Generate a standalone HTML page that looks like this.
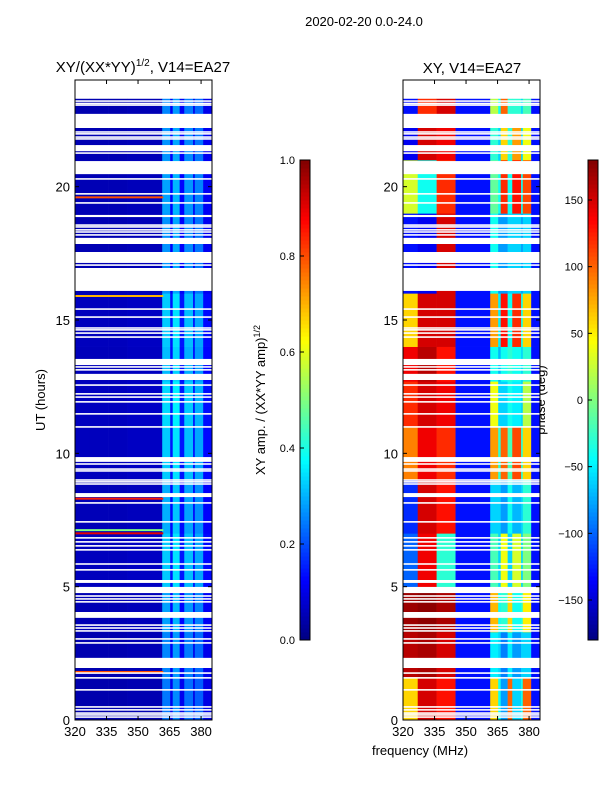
<!DOCTYPE html>
<html><head><meta charset="utf-8">
<style>
body{margin:0;background:#fff;width:600px;height:800px;overflow:hidden;font-family:"Liberation Sans","DejaVu Sans",sans-serif;}
svg text{font-family:"Liberation Sans","DejaVu Sans",sans-serif;}
</style></head>
<body>
<svg id="fig" width="600" height="800" viewBox="0 0 600 800">
<rect width="600" height="800" fill="#fff"/>
<text x="364" y="26" font-size="13" text-anchor="middle">2020-02-20 0.0-24.0</text>
<text x="143" y="72" font-size="15" text-anchor="middle">XY/(XX*YY)<tspan font-size="10" dy="-6">1/2</tspan><tspan dy="6">, V14=EA27</tspan></text>
<text x="472" y="73" font-size="15" text-anchor="middle">XY, V14=EA27</text>
<text x="420" y="755" font-size="13" text-anchor="middle">frequency (MHz)</text>
<text transform="translate(45,400) rotate(-90)" font-size="13" text-anchor="middle">UT (hours)</text>
<text transform="translate(265,400) rotate(-90)" font-size="13" text-anchor="middle">XY amp. / (XX*YY amp)<tspan font-size="9" dy="-5">1/2</tspan></text>
<text transform="translate(545,400) rotate(-90)" font-size="13" text-anchor="middle">phase (deg)</text>
<g id="left"></g><g id="right"></g><g id="cb"></g>
</svg>
<script>
// ---- data ----
const hourTicks=[0,5,10,15,20];
const freqTicks=[320,335,350,365,380];
const ampTicks=[0.0,0.2,0.4,0.6,0.8,1.0];
const phaseTicks=[-150,-100,-50,0,50,100,150];
const wideGaps=[[23.3,24],[22.2,22.73],[21.33,21.56],[20.47,20.96],[18.86,18.94],[17.85,18.08],[17.14,17.55],[16.09,16.95],[13.31,13.54],[12.75,12.98],[9.68,9.86],[8.36,8.51],[5.14,5.25],[4.76,4.99],[3.83,4.05],[1.95,2.33]];
const thinGaps=[23.21,23.12,23.06,22.05,21.98,21.86,21.79,21.26,20.29,19.73,19.39,18.56,18.49,18.38,18.30,18.19,17.06,15.41,15.11,14.70,14.63,14.51,14.36,13.24,13.13,12.56,12.23,12.11,11.93,11.48,10.99,9.60,9.41,9.34,9.0,8.93,8.85,8.14,7.43,6.83,6.68,6.53,6.38,5.85,5.63,4.65,4.54,4.43,3.56,3.45,3.34,3.04,2.89,1.76,1.58,1.13,0.49,0.38,0.26,0.19,0.11];
// frequency band edges (MHz)
const bandEdges=[320,327,336,345,361.5,365.3,366.5,369.8,372,376.2,377,381,385.2];
// amplitude of each band (left panel), baseline
const ampBands=[0.05,0.05,0.05,0.055,0.27,0.12,0.29,0.12,0.26,0.11,0.24,0.11];
// time segments (hours) with amplitude scale
const segHours=[0,1.6,3.3,5.0,7.0,9.0,11.0,12.7,14.0,16.0,19.0,21.0,22.7,23.3];
const ampScale=[0.9,0.95,1.05,1.2,1.1,1.2,1.25,1.15,1.2,1.0,1.05,1.0,0.95];
// phase per segment per band (deg)
const phase=[
 [60,150,130,-130,60,-40,-80,100,-60,-40,100,-130],
 [160,165,150,-130,-50,-60,-90,-50,-80,-60,-60,-130],
 [170,175,165,-130,70,-40,-30,60,-40,-30,50,-130],
 [-100,140,-30,-130,-20,-60,40,-60,30,-60,0,-130],
 [-120,150,130,-130,-60,-60,-80,-40,-70,-60,-30,-130],
 [90,140,120,-130,80,-30,100,-20,110,-30,60,-130],
 [120,150,140,-130,40,-60,-60,-40,-50,-60,20,-130],
 [140,160,130,-130,-40,-70,-40,-30,-40,-60,-30,-130],
 [60,150,150,-130,80,-50,130,-40,120,-40,60,-130],
 [-130,-140,150,-130,-40,-80,-80,-60,-60,-80,-60,-130],
 [30,-40,120,-130,-10,-40,120,-40,130,-40,110,-130],
 [-140,150,140,-130,-30,-60,60,-30,80,-60,40,-130],
 [-130,120,150,-130,20,-40,100,-30,-30,-60,-20,-130]
];
// RFI rows on left panel: [hour, amplitude]
const rfiRows=[[1.8,0.8],[4.85,0.85],[7.0,0.9],[7.12,0.5],[8.3,0.85],[15.9,0.7],[19.6,0.8]];
// ---- helpers ----
const NS="http://www.w3.org/2000/svg";
function jet(v){v=Math.max(0,Math.min(1,v));
 const r=Math.min(4*v-1.5,-4*v+4.5),g=Math.min(4*v-0.5,-4*v+3.5),b=Math.min(4*v+0.5,-4*v+2.5);
 const c=x=>Math.round(255*Math.max(0,Math.min(1,x)));return `rgb(${c(r)},${c(g)},${c(b)})`;}
function mk(tag,attrs,parent){const e=document.createElementNS(NS,tag);for(const k in attrs)e.setAttribute(k,attrs[k]);parent.appendChild(e);return e;}
const Y0=720,Y1=80;
const yS=h=>Y0-(h/24)*(Y0-Y1);
function panel(gid,x0,x1,valueFn,isAmp){
 const g=document.getElementById(gid);
 const xS=f=>x0+(f-320)/(385.2-320)*(x1-x0);
 for(let s=0;s<segHours.length-1;s++){
  for(let b=0;b<bandEdges.length-1;b++){
   const r=mk('rect',{x:xS(bandEdges[b]),y:yS(segHours[s+1]),width:xS(bandEdges[b+1])-xS(bandEdges[b])+0.3,height:yS(segHours[s])-yS(segHours[s+1])+0.3,fill:jet(valueFn(s,b))},g);
   
   
  }
 }
 if(isAmp){rfiRows.forEach(([h,a])=>{const r=mk('rect',{x:x0,y:yS(h)-1,width:xS(362)-x0,height:2,fill:jet(a)},g);
  
  });}
 wideGaps.forEach(([a,b])=>{const r=mk('rect',{x:x0,y:yS(b),width:x1-x0,height:yS(a)-yS(b),fill:'#fff'},g);
  
  });
 thinGaps.forEach(h=>{const r=mk('rect',{x:x0,y:yS(h)-0.8,width:x1-x0,height:1.6,fill:'#fff'},g);
  
  });
 const fr=mk('rect',{x:x0,y:Y1,width:x1-x0,height:Y0-Y1,fill:'none',stroke:'#000','stroke-width':1},g);
 
 
 freqTicks.forEach(f=>{const x=xS(f);mk('line',{x1:x,x2:x,y1:Y0,y2:Y0-4,stroke:'#000'},g);mk('line',{x1:x,x2:x,y1:Y1,y2:Y1+4,stroke:'#000'},g);
  const t=mk('text',{x:x,y:Y0+16,'font-size':13,'text-anchor':'middle'},g);t.textContent=f;
  
  });
 hourTicks.forEach(h=>{const y=yS(h);mk('line',{x1:x0,x2:x0+4,y1:y,y2:y,stroke:'#000'},g);mk('line',{x1:x1,x2:x1-4,y1:y,y2:y,stroke:'#000'},g);
  const t=mk('text',{x:x0-5,y:y+5,'font-size':13,'text-anchor':'end'},g);t.textContent=h;
  
  });
}
panel('left',75,212,(s,b)=>ampBands[b]*ampScale[s],true);
panel('right',403,540,(s,b)=>(phase[s][b]+180)/360,false);
// colorbars
function colorbar(x,vmin,vmax,ticks,fmt,name){
 const g=document.getElementById('cb');const top=160,bot=640;
 const n=120;
 for(let i=0;i<n;i++){const v=i/n;mk('rect',{x:x,y:bot-(i+1)*(bot-top)/n,width:10,height:(bot-top)/n+0.5,fill:jet(v+0.5/n)},g);}
 const fr=mk('rect',{x:x,y:top,width:10,height:bot-top,fill:'none',stroke:'#000'},g);
 
 
 ticks.forEach(v=>{const y=bot-(v-vmin)/(vmax-vmin)*(bot-top);mk('line',{x1:x,x2:x+4,y1:y,y2:y,stroke:'#000'},g);
  const t=mk('text',{x:x-5,y:y+4,'font-size':11,'text-anchor':'end'},g);t.textContent=fmt(v);
  
  });
}
colorbar(300,0,1,ampTicks,v=>v.toFixed(1),'amp-colorbar');
colorbar(588,-180,180,phaseTicks,v=>v<0?'\u2212'+(-v):String(v),'phase-colorbar');
</script>
</body></html>
